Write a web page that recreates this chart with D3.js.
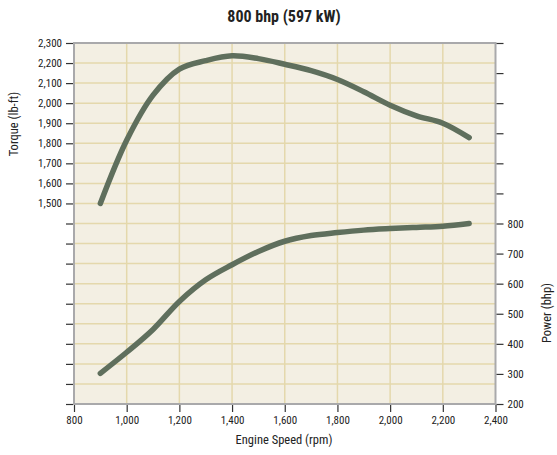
<!DOCTYPE html>
<html><head><meta charset="utf-8">
<script src="https://cdn.jsdelivr.net/npm/d3@7"></script>
<style>
body{margin:0;background:#fff;}
svg text{font-family:"Liberation Sans Narrow","Roboto Condensed","DejaVu Sans Condensed",sans-serif;fill:#222;}
</style></head>
<body>
<svg id="c" width="557" height="455"></svg>
<script>
const title = "800 bhp (597 kW)";
const rpm = [900,1000,1100,1200,1300,1400,1500,1600,1700,1800,1900,2000,2100,2200,2300];
const torque = [1500,1815,2040,2170,2212,2236,2222,2194,2162,2118,2057,1990,1937,1900,1828];
const power = [302,372,448,541,613,663,707,741,760,770,778,783,787,791,800];
const xTicks = [800,1000,1200,1400,1600,1800,2000,2200,2400];
const torqueTicks = d3.range(500,2301,100);
const torqueLabels = [1500,1600,1700,1800,1900,2000,2100,2200,2300];
const powerTicks = d3.range(200,1401,100);
const powerLabels = [200,300,400,500,600,700,800];

const svg = d3.select("#c");
const L=74, R=495.5, T=43, B=404;
const x = d3.scaleLinear().domain([800,2400]).range([L,R]);
const yT = d3.scaleLinear().domain([500,2300]).range([B,T]);
const yP = d3.scaleLinear().domain([200,1400]).range([B,T]);
const fmt = d3.format(",");

svg.append("rect").attr("x",L).attr("y",T).attr("width",R-L).attr("height",B-T).attr("fill","#f3efe3");
// grid
svg.append("g").selectAll("line").data(torqueTicks.filter(d=>d>500&&d<2300)).join("line")
  .attr("x1",L).attr("x2",R).attr("y1",d=>yT(d)).attr("y2",d=>yT(d))
  .attr("stroke","#e4d8ac").attr("stroke-width",1.5);
svg.append("g").selectAll("line").data(xTicks.filter(d=>d>800&&d<2400)).join("line")
  .attr("y1",T).attr("y2",B).attr("x1",d=>x(d)).attr("x2",d=>x(d))
  .attr("stroke","#e4d8ac").attr("stroke-width",1.5);
// frame
svg.append("rect").attr("x",L).attr("y",T).attr("width",R-L).attr("height",B-T)
  .attr("fill","none").attr("stroke","#a9a9ab").attr("stroke-width",2);

function styleAxis(g){
  g.select(".domain").remove();
  g.selectAll(".tick line").attr("stroke","#333").attr("stroke-width",1.2);
  g.selectAll(".tick text").attr("font-size","11px").style("fill","#222");
}
svg.append("g").attr("transform",`translate(0,${B+1})`)
  .call(d3.axisBottom(x).tickValues(xTicks).tickSize(7).tickPadding(4).tickFormat(fmt))
  .call(styleAxis);
svg.append("g").attr("transform",`translate(${L-1},0)`)
  .call(d3.axisLeft(yT).tickValues(torqueTicks).tickSize(7).tickPadding(4)
    .tickFormat(d=>torqueLabels.includes(d)?fmt(d):""))
  .call(styleAxis);
svg.append("g").attr("transform",`translate(${R+1},0)`)
  .call(d3.axisRight(yP).tickValues(powerTicks).tickSize(7).tickPadding(4)
    .tickFormat(d=>powerLabels.includes(d)?fmt(d):""))
  .call(styleAxis);

const lineT = d3.line().x((d,i)=>x(rpm[i])).y(d=>yT(d)).curve(d3.curveCatmullRom.alpha(0.5));
const lineP = d3.line().x((d,i)=>x(rpm[i])).y(d=>yP(d)).curve(d3.curveCatmullRom.alpha(0.5));
[ [torque,lineT], [power,lineP] ].forEach(([data,ln])=>{
  svg.append("path").attr("d",ln(data)).attr("fill","none").attr("stroke","#5f6f5d")
    .attr("stroke-width",5.5).attr("stroke-linecap","round").attr("stroke-linejoin","round");
});

svg.append("text").attr("x",284).attr("y",22).attr("text-anchor","middle")
  .attr("font-size","16px").attr("font-weight","bold").text(title);
svg.append("text").attr("x",284).attr("y",444).attr("text-anchor","middle")
  .attr("font-size","12.5px").text("Engine Speed (rpm)");
svg.append("text").attr("transform","translate(18,124) rotate(-90)").attr("text-anchor","middle")
  .attr("font-size","12.5px").text("Torque (lb-ft)");
svg.append("text").attr("transform","translate(551,313) rotate(-90)").attr("text-anchor","middle")
  .attr("font-size","12.5px").text("Power (bhp)");
</script>
</body></html>
